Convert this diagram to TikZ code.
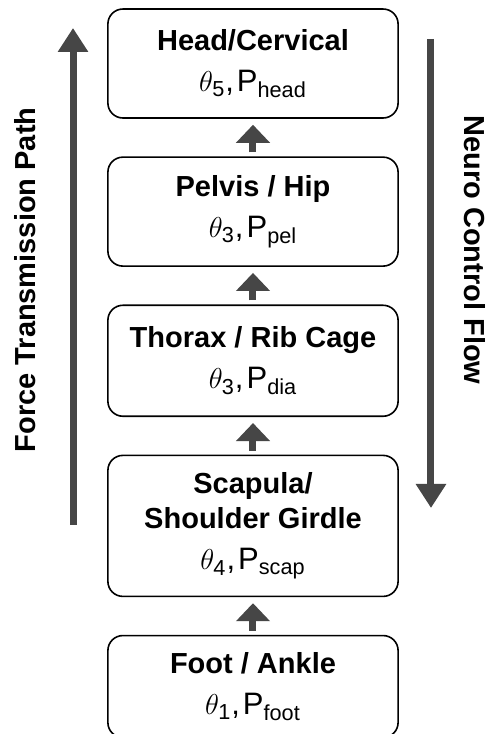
\documentclass[tikz,border=0pt]{standalone}
\usepackage{fontspec}
\usepackage{amsmath}
\setmainfont{Liberation Sans}
\usepackage{tikz}
\usetikzlibrary{arrows.meta, positioning}
\definecolor{mygray}{RGB}{70,70,70}
\tikzset{
  segment/.style={rectangle, draw=black, fill=white,
    minimum width=5.1cm, minimum height=1.915cm, align=center,
    font=\fontsize{14.5}{17.4}\selectfont, rounded corners=7.5pt, line width=0.8pt},
  uparrow/.style={-{Triangle[width=16.5pt,length=9pt]}, line width=3.5pt,
    color=mygray, shorten <=2pt, shorten >=3pt},
  sidearrow/.style={-{Triangle[width=14.5pt,length=12pt]}, line width=3.5pt, color=mygray},
  sidelabel/.style={font=\bfseries\fontsize{14.5}{17.4}\selectfont}
}
\newcommand{\angp}[2]{{\fontsize{15.5}{17.4}\selectfont$\theta_{\text{#1}}$,\hspace{1.5pt}P$_{\text{#2}}$}}

\begin{document}
\begin{tikzpicture}[node distance=0.66cm]
  \path[use as bounding box, fill=white] (0,0) rectangle (8.646,-12.899);

  % Segment chain (top to bottom)
  \node[segment] (head) at (4.446,-1.116) {\textbf{Head/Cervical}\\[3.2pt]\angp{5}{head}};
  \node[segment, below=of head] (pelvis) {\textbf{Pelvis / Hip}\\[3.2pt]\angp{3}{pel}};
  \node[segment, below=of pelvis, minimum height=1.95cm] (thorax) {\textbf{Thorax / Rib Cage}\\[3.2pt]\angp{3}{dia}};
  \node[segment, below=of thorax, minimum height=2.478cm] (scapula) {\textbf{Scapula/}\\\textbf{Shoulder Girdle}\\[3.2pt]\angp{4}{scap}};
  \node[segment, below=of scapula, minimum height=1.792cm] (foot) {\textbf{Foot / Ankle}\\[3.2pt]\angp{1}{foot}};

  % Upward arrows between segments
  \draw[uparrow] (foot) -- (scapula);
  \draw[uparrow] (scapula) -- (thorax);
  \draw[uparrow] (thorax) -- (pelvis);
  \draw[uparrow] (pelvis) -- (head);

  % Force transmission (left)
  \coordinate (fbot) at (1.283,-9.226);
  \coordinate (ftop) at (1.283,-0.492);
  \draw[sidearrow] (fbot) -- (ftop);
  \node[sidelabel, rotate=90] (force) at (0.439,-4.92) {Force Transmission Path};

  % Neuro control (right)
  \coordinate (ntop) at (7.574,-0.685);
  \coordinate (nbot) at (7.574,-8.927);
  \draw[sidearrow] (ntop) -- (nbot);
  \node[sidelabel, rotate=-90] (neuro) at (8.347,-4.393) {Neuro Control Flow};
\end{tikzpicture}
\end{document}
